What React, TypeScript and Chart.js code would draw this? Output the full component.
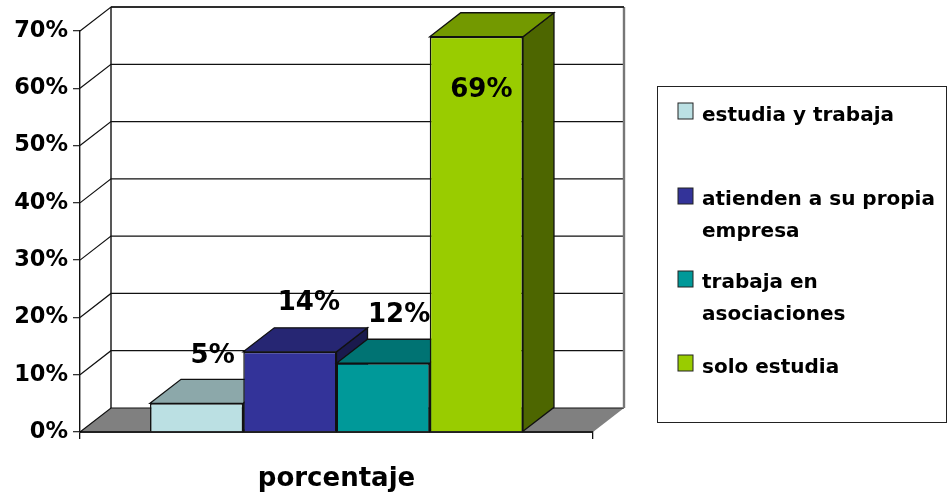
import React, { useEffect, useRef } from "react";
import { Chart, registerables } from "chart.js";

Chart.register(...registerables);

const categories = ["porcentaje"];
const seriesNames = ["estudia y trabaja", "atienden a su propia empresa", "trabaja en asociaciones", "solo estudia"];
const seriesValues = [5, 14, 12, 69];
const valueLabels = ["5%", "14%", "12%", "69%"];
const legendLines = [["estudia y trabaja"], ["atienden a su propia", "empresa"], ["trabaja en", "asociaciones"], ["solo estudia"]];
const frontColors = ["#BBE0E3", "#333399", "#009999", "#99CC00"];
const topColors = ["#8CA8AA", "#262673", "#007373", "#739900"];
const sideColors = ["#5E7072", "#1A1A4D", "#004D4D", "#4D6600"];

const FONT = '"DejaVu Sans", sans-serif';
const DX = 31;
const DY = -24;
const labelOffsets = [[16, -47], [19, -49], [16, -48], [5, 54]];
const legendSwatchY = [103, 188, 271, 355];
const legendBaselines = [[121], [205, 237], [288, 320], [373]];

function poly(ctx: any, pts: number[][], fill: string | null, stroke: string | null, lw = 1.5) {
  ctx.beginPath();
  pts.forEach((p, i) => (i ? ctx.lineTo(p[0], p[1]) : ctx.moveTo(p[0], p[1])));
  ctx.closePath();
  if (fill) {
    ctx.fillStyle = fill;
    ctx.fill();
  }
  if (stroke) {
    ctx.strokeStyle = stroke;
    ctx.lineWidth = lw;
    ctx.lineJoin = "miter";
    ctx.stroke();
  }
}

function line(ctx: any, pts: number[][], color: string, lw: number) {
  ctx.beginPath();
  pts.forEach((p, i) => (i ? ctx.lineTo(p[0], p[1]) : ctx.moveTo(p[0], p[1])));
  ctx.strokeStyle = color;
  ctx.lineWidth = lw;
  ctx.stroke();
}

const walls3d = {
  id: "walls3d",
  beforeDatasetsDraw(chart: any) {
    const { ctx, chartArea: a, scales } = chart;
    const y = scales.y;
    ctx.save();
    poly(ctx, [[a.left, a.bottom], [a.left + DX, a.bottom + DY], [a.right + DX, a.bottom + DY], [a.right, a.bottom]], "#808080", null);
    for (let v = 0; v <= 70; v += 10) {
      const py = y.getPixelForValue(v);
      line(ctx, [[a.left, py], [a.left + DX, py + DY], [a.right + DX, py + DY]], "#111111", 1.2);
    }
    line(ctx, [[a.left + DX, a.bottom + DY], [a.left + DX, a.top + DY]], "#111111", 1.4);
    line(ctx, [[a.right + DX, a.bottom + DY], [a.right + DX, a.top + DY]], "#777777", 2.4);
    line(ctx, [[a.left + DX, a.top + DY], [a.right + DX, a.top + DY]], "#111111", 1.6);
    line(ctx, [[a.left, a.bottom], [a.right, a.bottom]], "#000000", 1.6);
    ctx.restore();
  },
  // Native drawing runs last-to-first; cancel it and paint the library's own bar elements left to right.
  beforeDatasetDraw() {
    return false;
  },
  afterDatasetsDraw(chart: any) {
    const { ctx } = chart;
    ctx.save();
    seriesValues.forEach((_, i) => {
      const b = chart.getDatasetMeta(i).data[0];
      const l = b.x - b.width / 2;
      const r = b.x + b.width / 2;
      poly(ctx, [[r, b.base], [r + DX, b.base + DY], [r + DX, b.y + DY], [r, b.y]], sideColors[i], "#111111", 1.3);
      poly(ctx, [[l, b.y], [l + DX, b.y + DY], [r + DX, b.y + DY], [r, b.y]], topColors[i], "#111111", 1.3);
      b.draw(ctx, chart.chartArea);
    });
    ctx.fillStyle = "#000000";
    ctx.font = `bold 26px ${FONT}`;
    ctx.textAlign = "center";
    ctx.textBaseline = "middle";
    seriesValues.forEach((_, i) => {
      const b = chart.getDatasetMeta(i).data[0];
      ctx.fillText(valueLabels[i], b.x + labelOffsets[i][0], b.y + labelOffsets[i][1]);
    });
    ctx.restore();
  },
  afterDraw(chart: any) {
    const { ctx } = chart;
    ctx.save();
    ctx.fillStyle = "#FFFFFF";
    ctx.fillRect(657.5, 86.5, 289, 336);
    ctx.strokeStyle = "#222222";
    ctx.lineWidth = 1;
    ctx.strokeRect(657.5, 86.5, 289, 336);
    legendLines.forEach((lines, i) => {
      ctx.fillStyle = frontColors[i];
      ctx.fillRect(678, legendSwatchY[i], 15, 16);
      ctx.strokeStyle = "#222222";
      ctx.lineWidth = 1;
      ctx.strokeRect(678, legendSwatchY[i], 15, 16);
      ctx.fillStyle = "#000000";
      ctx.font = `bold 20px ${FONT}`;
      ctx.textAlign = "left";
      ctx.textBaseline = "alphabetic";
      lines.forEach((t, j) => ctx.fillText(t, 702, legendBaselines[i][j]));
    });
    ctx.restore();
  },
};

export default function App() {
  const ref = useRef<HTMLCanvasElement | null>(null);
  useEffect(() => {
    const chart = new Chart(ref.current as HTMLCanvasElement, {
      type: "bar",
      data: {
        labels: categories,
        datasets: seriesNames.map((name, i) => ({
          label: name,
          data: [seriesValues[i]],
          backgroundColor: frontColors[i],
          borderColor: "#111111",
          borderWidth: 1.5,
          categoryPercentage: 0.727,
          barPercentage: 1,
        })),
      },
      options: {
        responsive: false,
        animation: false,
        layout: { padding: { top: 31, right: 355, left: 0, bottom: 0 } },
        plugins: { legend: { display: false }, title: { display: false }, tooltip: { enabled: false } },
        scales: {
          x: {
            afterFit: (s: any) => { s.height = 68; },
            grid: { drawOnChartArea: false, tickLength: 7, color: "#111111", lineWidth: 1.3 },
            border: { color: "#000000", width: 1.5 },
            ticks: { color: "#000000", padding: 25, font: { family: FONT, size: 26, weight: "bold" } },
          },
          y: {
            min: 0,
            max: 70,
            afterFit: (s: any) => { s.width = 80; },
            grid: { drawOnChartArea: false, tickLength: 7, color: "#333333", lineWidth: 1.3 },
            border: { color: "#111111", width: 1.4 },
            ticks: {
              stepSize: 10,
              color: "#000000",
              padding: 5,
              font: { family: FONT, size: 22.5, weight: "bold" },
              callback: (v: any) => `${v}%`,
            },
          },
        },
      },
      plugins: [walls3d],
    } as any);
    return () => chart.destroy();
  }, []);
  return (
    <div style={{ position: "fixed", left: 0, top: 0, width: 948, height: 500, background: "#fff" }}>
      <canvas ref={ref} width={948} height={500} style={{ display: "block" }} />
    </div>
  );
}
